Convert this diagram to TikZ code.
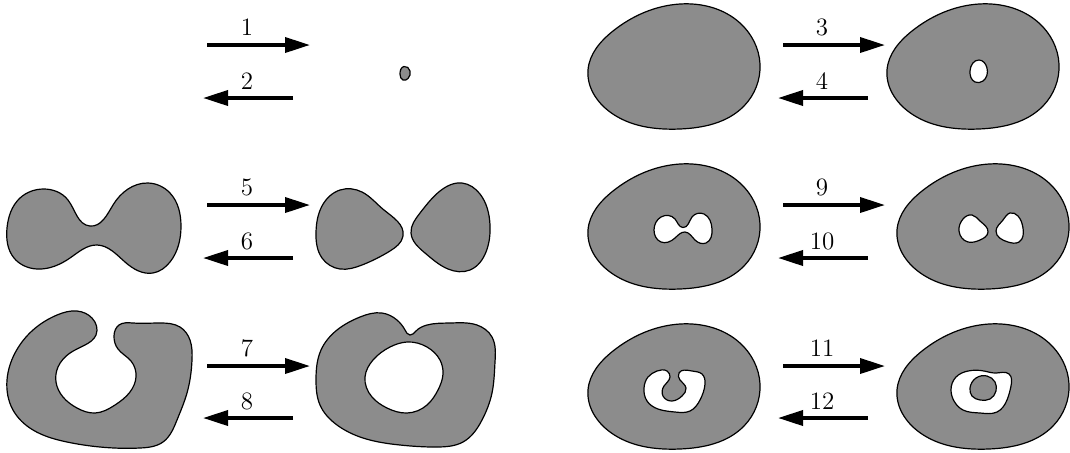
\documentclass[tikz,border=0pt]{standalone}
\usetikzlibrary{arrows.meta,hobby}
\definecolor{blobgray}{RGB}{140,140,140}
\tikzset{
  blob/.style={fill=blobgray, draw=black, line width=0.6pt, even odd rule},
  hole/.style={fill=white, draw=black, line width=0.6pt},
  arr/.style={line width=1.8pt, -{Triangle[length=12.5pt,width=7.5pt]}},
  lbl/.style={font=\fontsize{12.5}{15}\selectfont, inner sep=0pt}
}
\begin{document}
\begin{tikzpicture}[x=0.5pt,y=-0.5pt]
\useasboundingbox (0,0) rectangle (1070,452);

% ---------- arrows and labels ----------
\coordinate (a1s) at (207,45);  \coordinate (a1e) at (310,45);
\coordinate (a2s) at (293,98);  \coordinate (a2e) at (203,98);
\coordinate (a3s) at (783,45);  \coordinate (a3e) at (885,45);
\coordinate (a4s) at (868,98);  \coordinate (a4e) at (778,98);
\coordinate (a5s) at (207,205); \coordinate (a5e) at (310,205);
\coordinate (a6s) at (293,258); \coordinate (a6e) at (203,258);
\coordinate (a9s) at (783,205); \coordinate (a9e) at (885,205);
\coordinate (a10s) at (868,258); \coordinate (a10e) at (778,258);
\coordinate (a7s) at (207,366); \coordinate (a7e) at (310,366);
\coordinate (a8s) at (293,418); \coordinate (a8e) at (203,418);
\coordinate (a11s) at (783,366); \coordinate (a11e) at (885,366);
\coordinate (a12s) at (868,418); \coordinate (a12e) at (778,418);

\foreach \n in {1,...,12} {\draw[arr] (a\n s) -- (a\n e);}

\node[lbl] (l1) at (247,27) {1};
\node[lbl] (l2) at (247,81) {2};
\node[lbl] (l3) at (822,27) {3};
\node[lbl] (l4) at (822,81) {4};
\node[lbl] (l5) at (247,187) {5};
\node[lbl] (l6) at (247,241) {6};
\node[lbl] (l9) at (822,187) {9};
\node[lbl] (l10) at (822,241) {10};
\node[lbl] (l7) at (247,348) {7};
\node[lbl] (l8) at (247,401) {8};
\node[lbl] (l11) at (822,348) {11};
\node[lbl] (l12) at (822,401) {12};

% ---------- egg-shaped outer blobs (right half) ----------
\foreach \sx/\sy in {588/4, 887/4, 588/164, 897/164, 588/324, 897/324} {
  \path[blob, shift={(\sx,\sy)}] plot[closed hobby] coordinates {(0,66) (25,27) (92,0) (152,19) (172,60) (156,102) (92,125) (22,108)};
}

% ---------- row 1 ----------
\path[blob] plot[closed hobby] coordinates {(400,74) (404,66.5) (410,71) (408,78.5) (403,80)};
\path[hole] plot[closed hobby] coordinates {(970,71) (979,60) (987,68) (983,81) (975,82)};

% ---------- row 2 ----------
% dumbbell
\path[blob] plot[closed hobby] coordinates {(7,228) (20,198) (43,189) (68,200) (90,226) (113,205) (148,183) (170,193) (181,226) (170,262) (153,273) (125,262) (97,245) (70,258) (37,269) (14,258)};
% two blobs
\path[blob] plot[closed hobby] coordinates {(316,232) (322,206) (340,190) (362,192) (384,210) (403,236) (390,251) (362,265) (340,269) (322,258)};
\path[blob] plot[closed hobby] coordinates {(411,233) (420,213) (440,191) (462,183) (480,194) (490,225) (486,252) (470,270) (448,269) (425,253)};
% dumbbell-shaped hole
\path[hole] plot[closed hobby] coordinates {(654,230) (661,217) (675,219) (683,227.5) (692,217) (704,214) (712,229) (706,243) (695,240) (685,232) (675,238) (661,242)};
% two teardrop holes
\path[hole] plot[closed hobby] coordinates {(959,231) (963,219) (972,215) (980,221) (988,232) (980,240) (968,242)};
\path[hole] plot[closed hobby] coordinates {(996,231) (1003,220) (1010,213) (1018,216) (1023,228) (1019,242) (1008,242)};

% ---------- row 3 ----------
% C shape
\path[blob] plot[closed hobby] coordinates {(96,335) (92,318) (77,311) (57,315) (33,330) (15,353) (7,380) (13,410) (33,430) (67,442) (100,447) (140,448) (163,442) (177,420) (187,393) (192,360) (190,340) (180,327) (160,323) (133,323) (119,325) (114,336) (118,349) (131,361) (136,377) (130,392) (115,405) (95,413) (77,408) (63,397) (56,382) (58,367) (70,353) (85,345)};
% ring
\path[blob] plot[closed hobby] coordinates {(316,380) (321,350) (337,330) (360,317) (382,313) (397,320) (405,330) (410,335) (416,331) (427,325) (450,323) (477,325) (492,337) (495,362) (492,393) (482,420) (463,442) (437,447) (400,445) (363,438) (337,425) (320,405)};
\path[hole] plot[closed hobby] coordinates {(365,377) (373,360) (390,347) (407,342) (427,347) (440,360) (443,374) (438,390) (427,405) (407,413) (387,408) (372,397)};
% C-shaped hole
\path[hole] plot[closed hobby] coordinates {(679,373) (692,371) (702,374) (705,384) (700,400) (690,411) (675,412) (658,409) (647,401) (644,388) (648,377) (657,371) (667,371) (670,377) (664,386) (663,396) (672,401) (682,396) (686,388) (680,380)};
% annular hole with island
\path[hole] plot[closed hobby] coordinates {(951,390) (956,377) (968,371) (984,371) (996,373) (1009,374) (1011,386) (1007,400) (997,412) (980,413) (963,410) (954,401)};
\path[blob] plot[closed hobby] coordinates {(970,388) (976,378) (987,376) (995,382) (996,391) (990,399) (980,400) (972,396)};
\end{tikzpicture}
\end{document}
